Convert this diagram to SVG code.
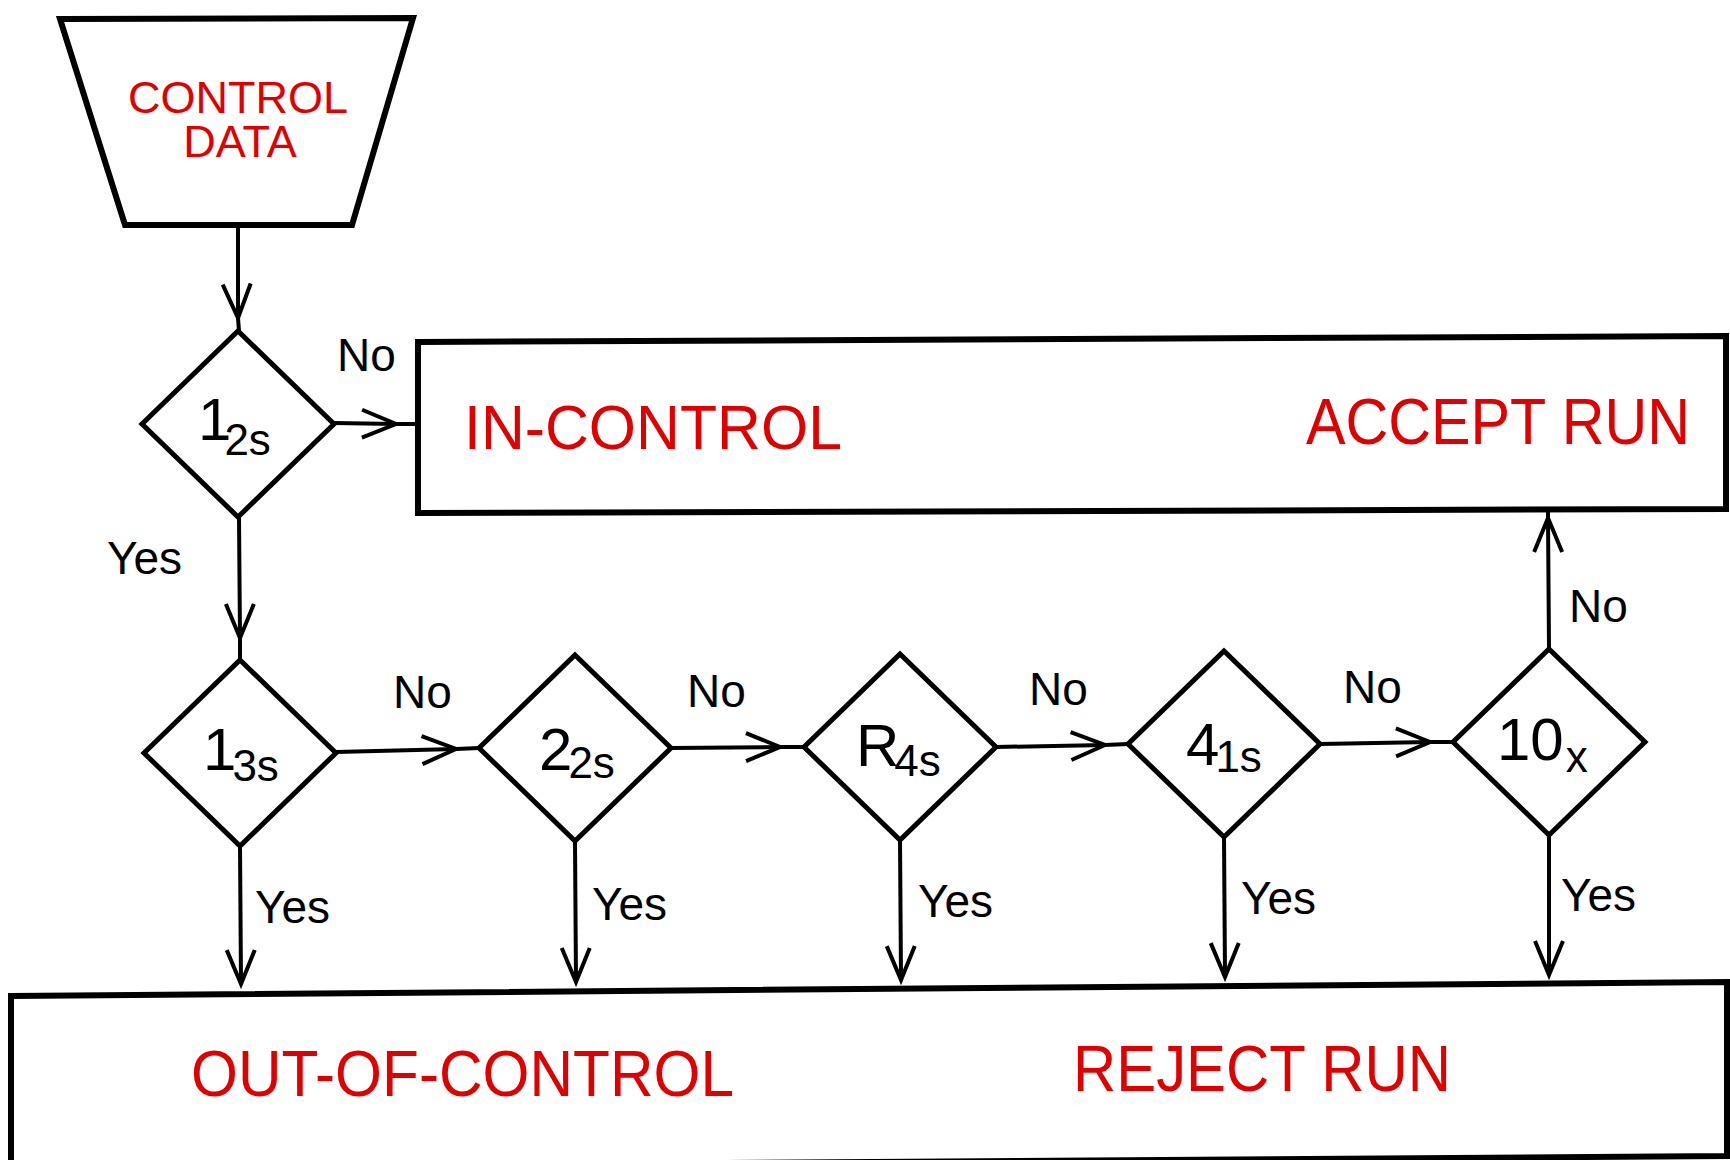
<svg xmlns="http://www.w3.org/2000/svg" width="1730" height="1160" viewBox="0 0 1730 1160">
<defs>
<marker id="chev" markerUnits="userSpaceOnUse" markerWidth="40" markerHeight="40" refX="0" refY="0" orient="auto" overflow="visible">
<path d="M-34,-14 L0,0 L-34,14" fill="none" stroke="#000" stroke-width="4"/>
</marker>
<style>
.box{fill:#fff;stroke:#000;stroke-width:6}
.dia{fill:#fff;stroke:#000;stroke-width:5}
.ln{fill:none;stroke:#000;stroke-width:4}
.mid{marker-mid:url(#chev)}
.end{marker-end:url(#chev)}
.red{font-family:"Liberation Sans",Arial,sans-serif;fill:#e00000}
.lbl{font-family:"Liberation Sans",Arial,sans-serif;fill:#000;font-size:46px}
.main{font-family:"Liberation Sans",Arial,sans-serif;font-size:60px;fill:#000}
.sub{font-size:44px}
</style>
</defs>
<rect x="0" y="0" width="1730" height="1160" fill="#fff"/>

<g id="connectors">
<path class="ln mid" d="M238,226 L238,318 L239,331"/>
<path class="ln mid" d="M334,423 L396,424 L418,424"/>
<path class="ln mid" d="M239,518 L240,638 L240,660"/>
<path class="ln mid" d="M336,752 L456,749 L479,748"/>
<path class="ln mid" d="M671,748 L780,747 L804,747"/>
<path class="ln mid" d="M996,747 L1105,745 L1128,744"/>
<path class="ln mid" d="M1320,744 L1430,742 L1453,742"/>
<path class="ln mid" d="M1549,649 L1548,518 L1548,511"/>
<path class="ln end" d="M240,846 L241,984"/>
<path class="ln end" d="M575,841 L576,982"/>
<path class="ln end" d="M900,840 L901,980"/>
<path class="ln end" d="M1224,837 L1225,977"/>
<path class="ln end" d="M1549,835 L1549,975"/>
<text class="lbl" x="337" y="371">No</text>
<text class="lbl" x="107" y="574">Yes</text>
<text class="lbl" x="393" y="708">No</text>
<text class="lbl" x="687" y="707">No</text>
<text class="lbl" x="1029" y="705">No</text>
<text class="lbl" x="1343" y="703">No</text>
<text class="lbl" x="1569" y="622">No</text>
<text class="lbl" x="255" y="923">Yes</text>
<text class="lbl" x="592" y="920">Yes</text>
<text class="lbl" x="918" y="917">Yes</text>
<text class="lbl" x="1241" y="914">Yes</text>
<text class="lbl" x="1561" y="911">Yes</text>
</g>

<g id="control-data">
<polygon class="box" points="60,19 413,18 352,225 125,225"/>
<text class="red" font-size="45" text-anchor="middle"><tspan x="238" y="113">CONTROL</tspan><tspan x="240" y="157">DATA</tspan></text>
</g>

<g id="in-control">
<polygon class="box" points="418,342 1726,336 1726,509 418,513"/>
<text class="red" font-size="63" x="464" y="449" textLength="378" lengthAdjust="spacingAndGlyphs">IN-CONTROL</text>
<text class="red" font-size="64" x="1306" y="444" textLength="384" lengthAdjust="spacingAndGlyphs">ACCEPT RUN</text>
</g>

<g id="out-of-control">
<polygon class="box" points="11,996 1727,982 1727,1156 11,1168"/>
<text class="red" font-size="64" x="191" y="1096" textLength="543" lengthAdjust="spacingAndGlyphs">OUT-OF-CONTROL</text>
<text class="red" font-size="64" x="1073" y="1091" textLength="378" lengthAdjust="spacingAndGlyphs">REJECT RUN</text>
</g>

<g id="rule-1-2s">
<polygon class="dia" points="238,331 334,424 238,517 142,424"/>
<text class="main" x="198" y="440">1<tspan class="sub" dx="-7" dy="15">2s</tspan></text>
</g>

<g id="rule-1-3s">
<polygon class="dia" points="240,660 336,753 240,846 144,753"/>
<text class="main" x="203" y="770">1<tspan class="sub" dx="-4" dy="11">3s</tspan></text>
</g>

<g id="rule-2-2s">
<polygon class="dia" points="575,655 671,748 575,841 479,748"/>
<text class="main" x="539" y="770">2<tspan class="sub" dx="-4" dy="8">2s</tspan></text>
</g>

<g id="rule-R-4s">
<polygon class="dia" points="900,654 996,747 900,840 804,747"/>
<text class="main" x="856" y="766">R<tspan class="sub" dx="-5" dy="10">4s</tspan></text>
</g>

<g id="rule-4-1s">
<polygon class="dia" points="1224,651 1320,744 1224,837 1128,744"/>
<text class="main" x="1186" y="765">4<tspan class="sub" dx="-4" dy="7">1s</tspan></text>
</g>

<g id="rule-10x">
<polygon class="dia" points="1549,649 1645,742 1549,835 1453,742"/>
<text class="main" x="1497" y="760">10<tspan class="sub" dx="2" dy="12">x</tspan></text>
</g>
</svg>
